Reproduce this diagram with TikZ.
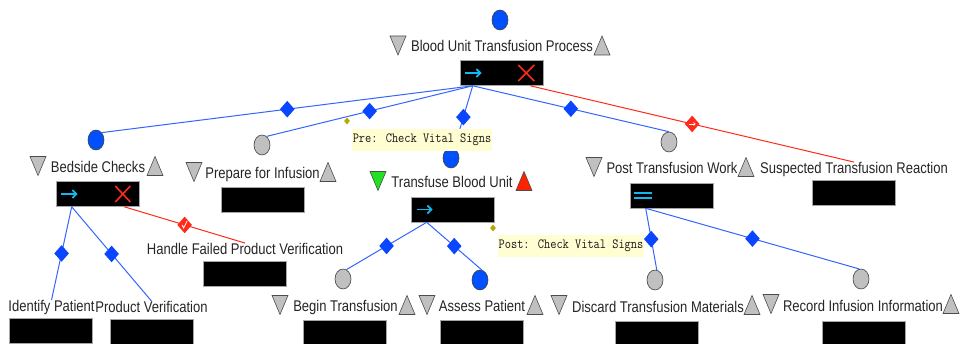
\documentclass[tikz,border=0pt]{standalone}
\usepackage{fontspec}
\newfontfamily\labfont[FakeStretch=0.84]{Liberation Sans}
\newfontfamily\notefont[FakeStretch=0.86]{Latin Modern Mono}
\usetikzlibrary{shapes.geometric,arrows.meta}

\definecolor{linkblue}{HTML}{3565FF}
\definecolor{diablue}{HTML}{0A46FF}
\definecolor{nodeblue}{HTML}{0050FF}
\definecolor{nodegray}{HTML}{C0C0C0}
\definecolor{failred}{HTML}{FF2A1A}
\definecolor{iconcyan}{HTML}{12B8F0}
\definecolor{trigreen}{HTML}{22E022}
\definecolor{trired}{HTML}{FF2200}
\definecolor{notebg}{HTML}{FFFDD2}
\definecolor{cond}{HTML}{B8A800}

\tikzset{
  lbl/.style={font=\labfont\fontsize{15.5}{16}\selectfont, text=black!85, inner sep=0pt, anchor=base},
  blk/.style={draw=gray!70, line width=0.6pt, fill=black, minimum width=83pt, minimum height=25pt, inner sep=0pt},
  bnode/.style={ellipse, draw=black!75, line width=0.6pt, fill=nodeblue, minimum width=16pt, minimum height=20pt, inner sep=0pt},
  gnode/.style={bnode, fill=nodegray},
  link/.style={draw=linkblue, line width=1pt},
  faillink/.style={draw=failred, line width=1pt},
  bdia/.style={diamond, fill=diablue, inner sep=0pt, minimum width=15pt, minimum height=17pt},
  rdia/.style={diamond, fill=failred, inner sep=0pt, minimum width=15pt, minimum height=17pt},
  cdot/.style={diamond, fill=cond, inner sep=0pt, minimum width=6pt, minimum height=7pt},
  note/.style={fill=notebg, font=\notefont\fontsize{14}{15}\selectfont, text=black!90, inner sep=1pt, minimum width=140pt, minimum height=22pt},
  goicon/.style={draw=iconcyan, line width=1.8pt, -{Straight Barb[length=4pt,width=8pt]}},
  stopicon/.style={draw=failred, line width=1.6pt},
  pics/dntri/.style={code={\draw[draw=black!70, line width=0.6pt, fill=#1] (-8,-9.5) -- (8,-9.5) -- (0,9.5) -- cycle;}},
  pics/uptri/.style={code={\draw[draw=black!70, line width=0.6pt, fill=#1] (-8,9.5) -- (8,9.5) -- (0,-9.5) -- cycle;}},
}

\begin{document}
\begin{tikzpicture}[x=1pt,y=-1pt]
\useasboundingbox[fill=white] (0,0) rectangle (960,344);

% ---- activity markers
\node[bnode] (root) at (500,20) {};
\node[bnode] (bed)  at (96,140) {};
\node[gnode] (prep) at (262,145) {};
\node[bnode] (tbu)  at (451,158) {};
\node[gnode] (post) at (669,142) {};
\node[gnode] (begin) at (343,279) {};
\node[bnode] (assess) at (480,280) {};
\node[gnode] (disc) at (655,280) {};
\node[gnode] (rec)  at (861,279) {};

% ---- titles
\node[lbl] (rootlbl) at (502,51.5) {Blood Unit Transfusion Process};
\node[lbl] (bedlbl)  at (98,172.5) {Bedside Checks};
\node[lbl] (preplbl) at (262.5,178.5) {Prepare for Infusion};
\node[lbl] (tbulbl)  at (452,187.5) {Transfuse Blood Unit};
\node[lbl] (postlbl) at (672,173.5) {Post Transfusion Work};
\node[lbl] (susplbl) at (854,173.5) {Suspected Transfusion Reaction};
\node[lbl] (hfpvlbl) at (245,254.5) {Handle Failed Product Verification};
\node[lbl] (idlbl)   at (51.5,311.5) {Identify Patient};
\node[lbl] (pvlbl)   at (151.5,312.5) {Product Verification};
\node[lbl] (beginlbl) at (345.5,311.5) {Begin Transfusion};
\node[lbl] (assesslbl) at (482,311.5) {Assess Patient};
\node[lbl] (disclbl) at (658,312.5) {Discard Transfusion Materials};
\node[lbl] (reclbl)  at (863,311.5) {Record Infusion Information};

% ---- pre/post condition triangles
\pic at (398,45.5) {dntri=nodegray};   \pic at (602,45.5) {uptri=nodegray};
\pic at (38,166)   {dntri=nodegray};   \pic at (155,166)  {uptri=nodegray};
\pic at (194,172)  {dntri=nodegray};   \pic at (328,172)  {uptri=nodegray};
\pic at (378,181)  {dntri=trigreen};   \pic at (524,181)  {uptri=trired};
\pic at (594,167)  {dntri=nodegray};   \pic at (746,167)  {uptri=nodegray};
\pic at (280,305)  {dntri=nodegray};   \pic at (407,305)  {uptri=nodegray};
\pic at (427,305)  {dntri=nodegray};   \pic at (535,305)  {uptri=nodegray};
\pic at (559,305)  {dntri=nodegray};   \pic at (752,305)  {uptri=nodegray};
\pic at (771,304)  {dntri=nodegray};   \pic at (951,304)  {uptri=nodegray};

% ---- agent boxes
\node[blk] (rootbox)   at (501.5,73) {};
\node[blk] (bedbox)    at (97.5,194) {};
\node[blk] (prepbox)   at (263,200) {};
\node[blk] (tbubox)    at (452.5,209.5) {};
\node[blk] (postbox)   at (671.5,195.5) {};
\node[blk] (suspbox)   at (853.5,193) {};
\node[blk] (hfpvbox)   at (244.5,274) {};
\node[blk] (idbox)     at (51,330.5) {};
\node[blk] (pvbox)     at (151.5,332) {};
\node[blk] (beginbox)  at (345,333) {};
\node[blk] (assessbox) at (481.5,333) {};
\node[blk] (discbox)   at (657,334) {};
\node[blk] (recbox)    at (864,334) {};

% ---- sequence / exception icons inside the boxes
\draw[goicon] ([xshift=5pt]rootbox.west) -- ([xshift=22pt]rootbox.west);
\draw[stopicon] ([shift={(-25pt,-8pt)}]rootbox.east) -- ([shift={(-9pt,8pt)}]rootbox.east)
                ([shift={(-25pt,8pt)}]rootbox.east) -- ([shift={(-9pt,-8pt)}]rootbox.east);
\draw[goicon] ([xshift=5pt]bedbox.west) -- ([xshift=22pt]bedbox.west);
\draw[stopicon] ([shift={(-24pt,-8pt)}]bedbox.east) -- ([shift={(-9pt,8pt)}]bedbox.east)
                ([shift={(-24pt,8pt)}]bedbox.east) -- ([shift={(-9pt,-8pt)}]bedbox.east);
\draw[goicon] ([xshift=6pt]tbubox.west) -- ([xshift=22pt]tbubox.west);
\draw[draw=iconcyan, line width=2pt]
  ([shift={(4pt,2.5pt)}]postbox.west) -- ([shift={(22pt,2.5pt)}]postbox.west)
  ([shift={(4pt,-2.5pt)}]postbox.west) -- ([shift={(22pt,-2.5pt)}]postbox.west);

% ---- connectors
\draw[link] ([xshift=13pt]rootbox.south west) -- node[bdia] {} (bed.52);
\draw[link] ([xshift=13pt]rootbox.south west) -- node[bdia] {} (prep.62);
\draw[link] ([xshift=13pt]rootbox.south west) -- node[bdia] {} (tbu.72);
\draw[link] ([xshift=13pt]rootbox.south west) -- node[bdia] {} (post.north);
\draw[faillink] ([xshift=-13pt]rootbox.south east) -- node[rdia] (rd1) {} (susplbl.north);

\draw[link] ([xshift=16pt]bedbox.south west) -- node[bdia] {} (idlbl.north);
\draw[link] ([xshift=16pt]bedbox.south west) -- node[bdia] {} (pvlbl.north);
\draw[faillink] ([xshift=-15pt]bedbox.south east) -- node[rdia] (rd2) {} (hfpvlbl.north);

\draw[link] ([xshift=16pt]tbubox.south west) -- node[bdia] {} (begin.70);
\draw[link] ([xshift=16pt]tbubox.south west) -- node[bdia] {} (assess.80);

\draw[link] ([xshift=16pt]postbox.south west) -- node[bdia] {} (disc.80);
\draw[link] ([xshift=16pt]postbox.south west) -- node[bdia] {} (rec.100);

% marks on the exception diamonds
\draw[white, line width=0.8pt, -{Straight Barb[length=1.5pt,width=3pt]}]
  ([xshift=-3.5pt]rd1.center) -- ([xshift=3.5pt]rd1.center);
\draw[white, line width=0.8pt]
  ([shift={(-2.5pt,0pt)}]rd2.center) -- ([shift={(-1pt,-3pt)}]rd2.center) -- ([shift={(2.5pt,4pt)}]rd2.center);

% ---- conditions
\node[cdot] (precond)  at (347,121) {};
\node[cdot] (postcond) at (493,228) {};
\node[note] (prenote)  at (422,140) {Pre: Check Vital Signs};
\node[note] (postnote) at (571,246) {Post: Check Vital Signs};
\end{tikzpicture}
\end{document}
